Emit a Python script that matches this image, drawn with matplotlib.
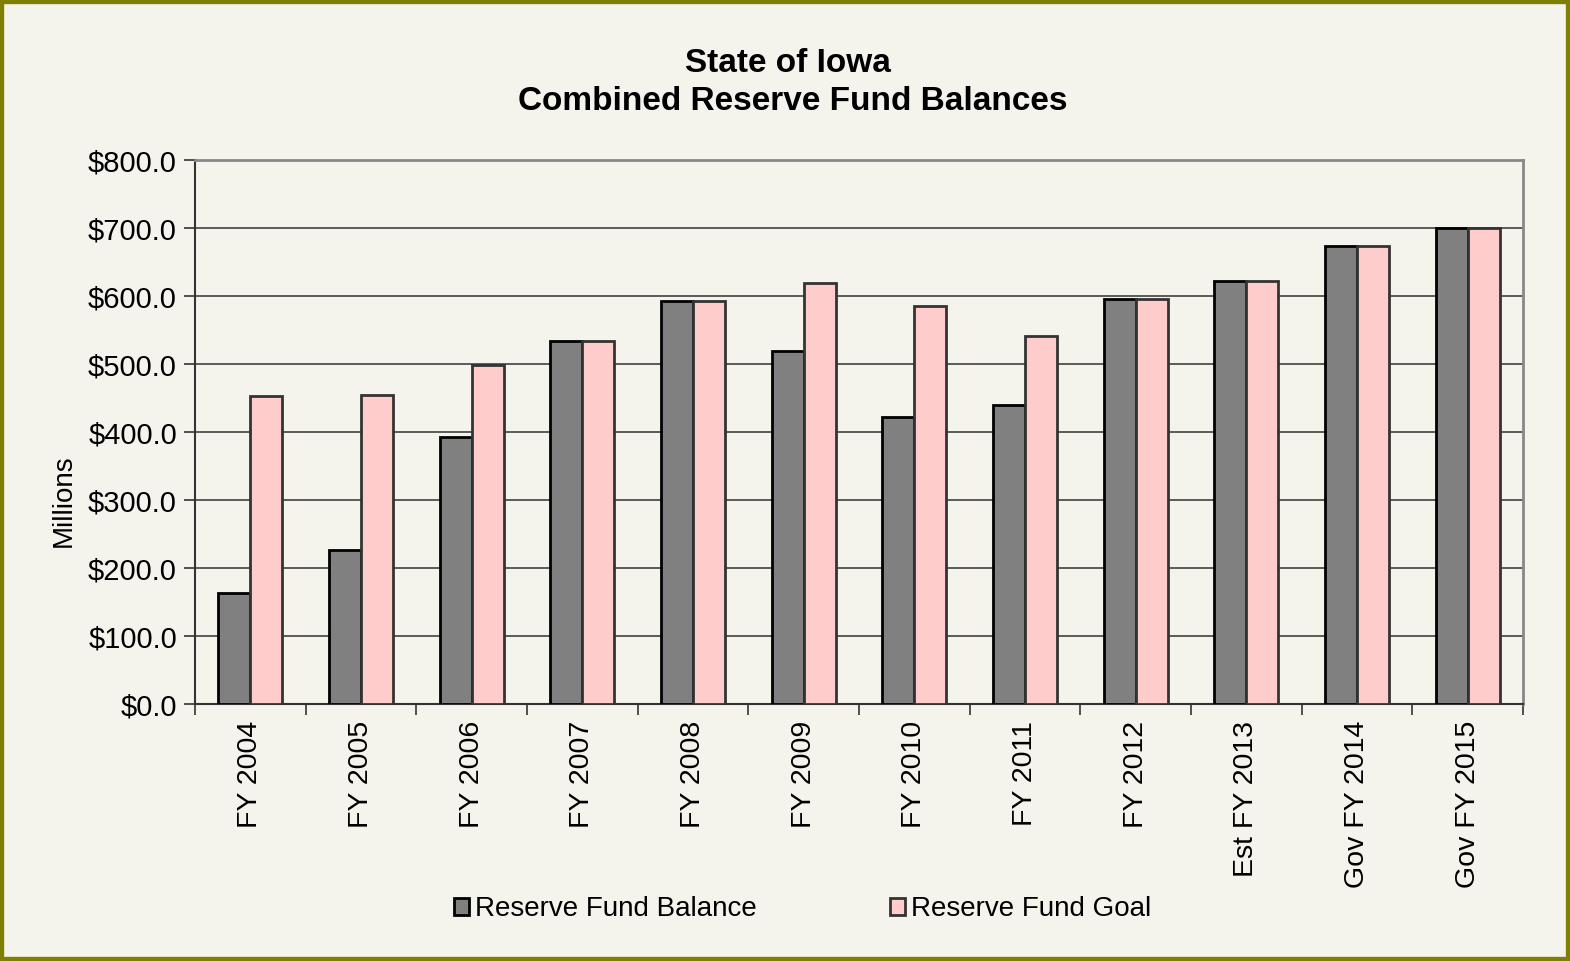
import matplotlib
matplotlib.use("Agg")
import matplotlib.pyplot as plt
import numpy as np
from matplotlib.patches import Rectangle, Patch

categories = ["FY 2004", "FY 2005", "FY 2006", "FY 2007", "FY 2008", "FY 2009",
              "FY 2010", "FY 2011", "FY 2012", "Est FY 2013", "Gov FY 2014", "Gov FY 2015"]
balance = [163, 226, 393, 534, 593, 519, 422, 440, 596, 622, 674, 700]
goal = [453, 454, 499, 534, 593, 619, 585, 541, 596, 622, 674, 700]
yticks = [0, 100, 200, 300, 400, 500, 600, 700, 800]

plt.rcParams['font.family'] = ['Liberation Sans', 'DejaVu Sans']
bg = '#F4F4EC'
fig = plt.figure(figsize=(15.7, 9.61), dpi=100, facecolor=bg)
fig.patches.append(Rectangle((0, 0), 1, 1, transform=fig.transFigure, fill=False,
                             edgecolor='#808000', linewidth=6, zorder=10))
ax = fig.add_axes([195/1570, 1-704/961, (1523-195)/1570, 544/961])
ax.set_facecolor(bg)

x = np.arange(len(categories))
w = 0.29
ax.bar(x - w/2, balance, width=w, color='#808080', edgecolor='black', linewidth=2, zorder=3)
ax.bar(x + w/2, goal, width=w, color='#FFCCCC', edgecolor='#333333', linewidth=2, zorder=3)

ax.set_xlim(-0.5, len(categories) - 0.5)
ax.set_ylim(0, 800)
ax.set_yticks(yticks)
ax.set_yticklabels([f"${v:.1f}" for v in yticks], fontsize=21)
ax.yaxis.grid(True, color='#404040', linewidth=1.2, zorder=0)
ax.set_axisbelow(True)

ax.set_xticks(np.arange(len(categories) + 1) - 0.5, minor=False)
ax.set_xticklabels([])
ax.set_xticks(x, minor=True)
ax.set_xticklabels(categories, minor=True, rotation=90, fontsize=20.5)
ax.tick_params(axis='x', which='minor', length=0, pad=12)
ax.tick_params(axis='x', which='major', length=8, width=1.2, color='#333333', direction='out')
ax.tick_params(axis='y', length=8, width=1.2, color='#333333', direction='out', pad=5)

for s in ['top', 'right']:
    ax.spines[s].set_color('#888888')
    ax.spines[s].set_linewidth(2)
for s in ['left', 'bottom']:
    ax.spines[s].set_color('#333333')
    ax.spines[s].set_linewidth(1.5)

ax.set_ylabel("Millions", fontsize=20)
ax.yaxis.set_label_coords(-0.089, 0.373)

fig.text(0.502, 1-60/961, "State of Iowa", ha='center', va='center_baseline', fontsize=24, fontweight='bold')
fig.text(0.505, 1-98/961, "Combined Reserve Fund Balances", ha='center', va='center_baseline', fontsize=24, fontweight='bold')

handles = [Patch(facecolor='#808080', edgecolor='black', linewidth=2),
           Patch(facecolor='#FFCCCC', edgecolor='#333333', linewidth=2)]
fig.legend(handles, ["Reserve Fund Balance", "Reserve Fund Goal"], loc='center',
           bbox_to_anchor=(0.511, 1-909/961), ncol=2, frameon=False, fontsize=20,
           handlelength=0.55, handleheight=0.55, handletextpad=0.2, columnspacing=4.8)

fig.savefig("out.png", dpi=100, facecolor=bg)
